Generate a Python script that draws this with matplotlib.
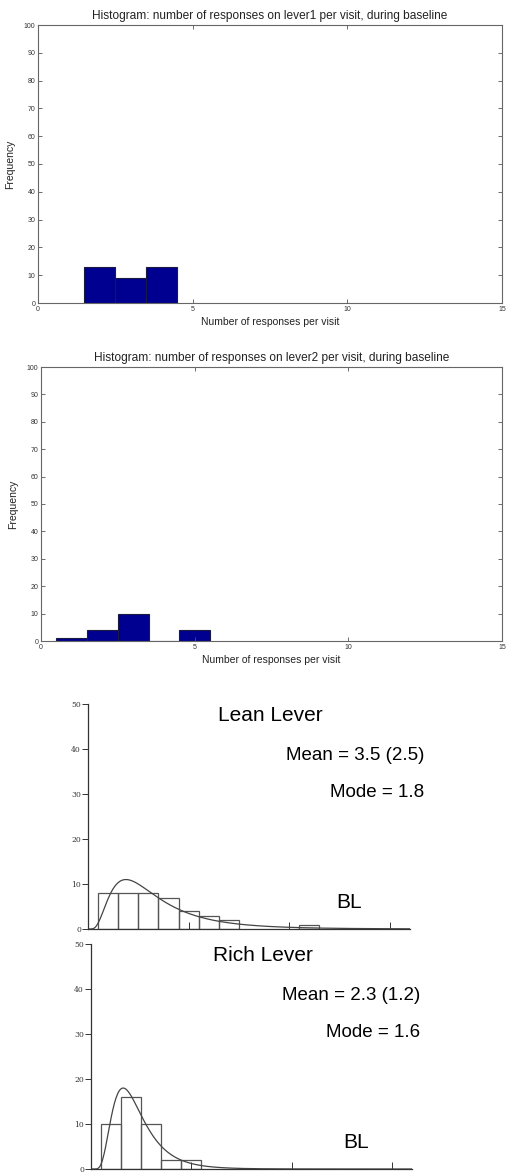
import numpy as np
import matplotlib
matplotlib.use('Agg')
import matplotlib.pyplot as plt

plt.rcParams['font.family'] = ['Liberation Sans', 'DejaVu Sans']

# baseline histograms (bin centres and counts)
lever1_bins = [2, 3, 4]
lever1_counts = [13, 9, 13]
lever2_bins = [1, 2, 3, 4, 5]
lever2_counts = [1, 4, 10, 0, 4]

# binned counts for the lean / rich lever panels
lean_bins = [1, 2, 3, 4, 5, 6, 7, 11]
lean_counts = [8, 8, 8, 7, 4, 3, 2, 1]
lean_mean, lean_sd, lean_mode = 3.5, 2.5, 1.8

rich_bins = [1, 2, 3, 4, 5]
rich_counts = [10, 16, 10, 2, 2]
rich_mean, rich_sd, rich_mode = 2.3, 1.2, 1.6

W, H = 509, 1173
fig = plt.figure(figsize=(W / 100, H / 100), dpi=100)


def px_axes(left, top, right, bottom):
    return fig.add_axes([left / W, 1 - bottom / H, (right - left) / W, (bottom - top) / H])


def matlab_hist(ax, bins, counts, title):
    ax.bar(bins, counts, width=1.0, color='#000090', edgecolor='#1a1a40', linewidth=0.8)
    ax.set_xlim(0, 15)
    ax.set_ylim(0, 100)
    ax.set_xticks([0, 5, 10, 15])
    ax.set_yticks(range(0, 101, 10))
    ax.tick_params(direction='in', top=True, right=True, labelsize=5, length=3,
                   width=0.6, color='#555555', labelcolor='#333333', pad=2)
    for s in ax.spines.values():
        s.set_color('#666666')
        s.set_linewidth(0.8)
    ax.set_title(title, fontsize=8.6, color='#222222', pad=4)
    ax.set_xlabel('Number of responses per visit', fontsize=7.5, color='#222222', labelpad=3)
    ax.set_ylabel('Frequency', fontsize=7.5, color='#222222', labelpad=6)


ax1 = px_axes(38, 25, 502, 303)
matlab_hist(ax1, lever1_bins, lever1_counts,
            'Histogram: number of responses on lever1 per visit, during baseline')

ax2 = px_axes(41, 367, 502, 641)
matlab_hist(ax2, lever2_bins, lever2_counts,
            'Histogram: number of responses on lever2 per visit, during baseline')


def lognormal_fit(mean, sd, n, x):
    # lognormal curve with the given mean / sd, scaled to counts per unit bin
    s2 = np.log(1 + (sd / mean) ** 2)
    mu = np.log(mean) - s2 / 2
    return n * np.exp(-(np.log(x) - mu) ** 2 / (2 * s2)) / (x * np.sqrt(2 * np.pi * s2))


def fit_panel(ax, bins, counts, mean, sd, mode, name, tx, mx, bx):
    ax.bar(bins, counts, width=1.0, fill=False, edgecolor='#555555', linewidth=0.9)
    x = np.linspace(0.05, 16, 400)
    ax.plot(x, lognormal_fit(mean, sd, sum(counts), x), color='#444444', lw=0.9)
    ax.set_xlim(0, 16)
    ax.set_ylim(0, 50)
    ax.set_xticks([5, 10, 15])
    ax.set_yticks(range(0, 51, 10))
    ax.spines['top'].set_visible(False)
    ax.spines['right'].set_visible(False)
    for s in ('left', 'bottom'):
        ax.spines[s].set_color('#333333')
        ax.spines[s].set_linewidth(0.9)
    ax.tick_params(axis='x', direction='in', length=5, width=0.7, color='#333333',
                   labelbottom=False)
    ax.tick_params(axis='y', direction='out', length=4, width=0.7, color='#333333',
                   labelsize=5.5, pad=1, labelcolor='#333333')
    for lab in ax.get_yticklabels():
        lab.set_family('DejaVu Serif')
    ax.text(tx, 0.95, name, transform=ax.transAxes, ha='center', va='center', fontsize=15)
    ax.text(mx, 0.77, 'Mean = %.1f (%.1f)' % (mean, sd), transform=ax.transAxes,
            ha='right', va='center', fontsize=13.5)
    ax.text(mx, 0.605, 'Mode = %.1f' % mode, transform=ax.transAxes,
            ha='right', va='center', fontsize=13.5)
    ax.text(bx, 0.12, 'BL', transform=ax.transAxes, ha='center', va='center',
            fontsize=15)


ax3 = px_axes(88, 704, 410, 929)
fit_panel(ax3, lean_bins, lean_counts, lean_mean, lean_sd, lean_mode, 'Lean Lever',
          0.565, 1.045, 0.81)

ax4 = px_axes(91, 944, 412, 1169)
fit_panel(ax4, rich_bins, rich_counts, rich_mean, rich_sd, rich_mode, 'Rich Lever',
          0.535, 1.025, 0.825)

fig.savefig('out.png', dpi=100)
